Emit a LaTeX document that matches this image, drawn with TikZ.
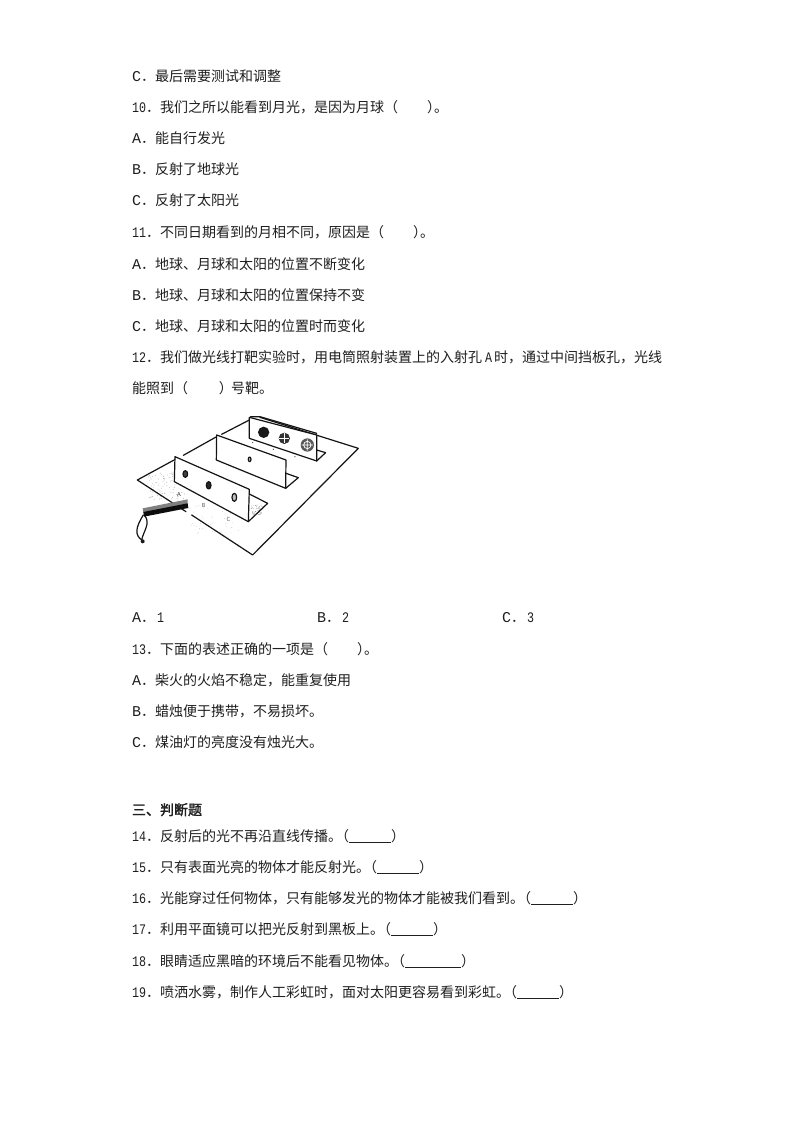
\documentclass[tikz,border=0pt]{standalone}
\usepackage{fontspec}
\setmainfont{Noto Sans CJK SC}
\newfontfamily\latinfont[FakeStretch=0.8]{Liberation Mono}
\newfontfamily\letterfont{Liberation Mono}
\newfontfamily\boldcjk[FakeBold=2]{Noto Sans CJK SC}
\newcommand{\mn}[1]{{\latinfont\fontsize{14.6pt}{14pt}\selectfont #1}}
\newcommand{\lt}[1]{{\letterfont\fontsize{15pt}{14pt}\selectfont #1}}
\newcommand{\blankline}[1]{\hspace{-7pt}（\rule[-2.2pt]{#1pt}{0.9pt}）}
\newcommand{\gapparen}{（\hspace{29pt}）\hspace{-7pt}}
\tikzset{
  ln/.style={anchor=base west,inner sep=0pt,outer sep=0pt,font=\fontsize{14pt}{16pt}\selectfont,text=black!88},
  art/.style={line width=1.2pt,draw=black!92,line join=round,line cap=round}
}
\begin{document}
\begin{tikzpicture}[x=1pt,y=-1pt]
\useasboundingbox (0,0) rectangle (794,1123);
\fill[white] (0,0) rectangle (794,1123);
\node[ln] (t1) at (132,82) {\lt{C}．最后需要测试和调整};
\node[ln] (t2) at (132,113) {\mn{10}．我们之所以能看到月光，是因为月球\gapparen 。};
\node[ln] (t3) at (132,144) {\lt{A}．能自行发光};
\node[ln] (t4) at (132,175) {\lt{B}．反射了地球光};
\node[ln] (t5) at (132,206) {\lt{C}．反射了太阳光};
\node[ln] (t6) at (132,237) {\mn{11}．不同日期看到的月相不同，原因是\gapparen 。};
\node[ln] (t7) at (132,269) {\lt{A}．地球、月球和太阳的位置不断变化};
\node[ln] (t8) at (132,300) {\lt{B}．地球、月球和太阳的位置保持不变};
\node[ln] (t9) at (132,331) {\lt{C}．地球、月球和太阳的位置时而变化};
\node[ln] (t10) at (132,362) {\mn{12}．我们做光线打靶实验时，用电筒照射装置上的入射孔\hspace{3pt}\mn{A}\hspace{2pt}时，通过中间挡板孔，光线};
\node[ln] (t11) at (132,393) {能照到（\hspace{31pt}）\hspace{-2pt}号靶。};
\node[ln] (o1) at (132,622) {\lt{A}．\hspace{2pt}\mn{1}};
\node[ln] (o2) at (317,622) {\lt{B}．\hspace{2pt}\mn{2}};
\node[ln] (o3) at (502,622) {\lt{C}．\hspace{2pt}\mn{3}};
\node[ln] (t12) at (132,654) {\mn{13}．下面的表述正确的一项是\gapparen 。};
\node[ln] (t13) at (132,685) {\lt{A}．柴火的火焰不稳定，能重复使用};
\node[ln] (t14) at (132,716) {\lt{B}．蜡烛便于携带，不易损坏。};
\node[ln] (t15) at (132,747) {\lt{C}．煤油灯的亮度没有烛光大。};
\node[ln,font=\boldcjk\fontsize{14pt}{16pt}\selectfont] (h) at (132,815) {三、判断题};
\node[ln] (q14) at (132,841) {\mn{14}．反射后的光不再沿直线传播。\blankline{42}};
\node[ln] (q15) at (132,872) {\mn{15}．只有表面光亮的物体才能反射光。\blankline{42}};
\node[ln] (q16) at (132,903) {\mn{16}．光能穿过任何物体，只有能够发光的物体才能被我们看到。\blankline{42}};
\node[ln] (q17) at (132,934) {\mn{17}．利用平面镜可以把光反射到黑板上。\blankline{42}};
\node[ln] (q18) at (132,966) {\mn{18}．眼睛适应黑暗的环境后不能看见物体。\blankline{56}};
\node[ln] (q19) at (132,997) {\mn{19}．喷洒水雾，制作人工彩虹时，面对太阳更容易看到彩虹。\blankline{42}};
\begin{scope}[shift={(120,400)},x=0.3333pt,y=-0.3333pt]
  % speckle
  \pgfmathsetseed{7}
  \foreach \i in {1,...,90}{
    \pgfmathsetmacro{\px}{85+rnd*110}
    \pgfmathsetmacro{\py}{215+rnd*85}
    \fill[black!40] (\px,\py) circle (1.2);
  }
  \foreach \i in {1,...,40}{
    \pgfmathsetmacro{\px}{210+rnd*150}
    \pgfmathsetmacro{\py}{315+rnd*85}
    \fill[black!30] (\px,\py) circle (1);
  }
  % board
  \draw[art] (166,178) -- (52,240) -- (198,335);
  \draw[art] (215,345) -- (398,465) -- (715,145) -- (420,52);
  \draw[art] (190,166) -- (290,110);
  \draw[art] (305,103) -- (388,60);
  % panel 3
  \draw[art,fill=white] (388,52) -- (590,105) -- (590,183) -- (388,115) -- cycle;
  \draw[art] (392,50) -- (420,50) -- (590,100);
  \draw[art] (590,150) -- (617,158) -- (590,183);
  \fill[black!90] (431,97) circle (17);
  \fill[black!80] (493,115) circle (17);
  \fill[black!65] (562,135) circle (20);
  \draw[white,line width=0.5pt] (493,100) -- (493,130) (478,115) -- (508,115);
  \draw[white,line width=0.7pt] (562,118) -- (562,152) (545,135) -- (579,135) (562,135) circle (11);
  \foreach \p/\q in {398/128,460/148,525/170} \fill[black!70] (\p,\q) circle (2);
  % panel 2
  \draw[art,fill=white] (290,105) -- (498,180) -- (497,265) -- (289,180) -- cycle;
  \draw[art] (498,220) -- (535,233) -- (497,265);
  \draw[art,fill=black!25] (389,178) ellipse (4 and 7);
  % panel 1
  \foreach \i in {1,...,50}{
    \pgfmathsetmacro{\px}{392+rnd*35}
    \pgfmathsetmacro{\py}{315+rnd*30}
    \fill[black!50] (\px,\py) circle (1.1);
  }
  \draw[art,fill=white] (165,170) -- (388,268) -- (385,365) -- (163,245) -- cycle;
  \draw[art] (388,282) -- (443,310) -- (385,365);
  \draw[art,fill=black!75] (196,222) ellipse (7 and 10);
  \draw[art,fill=black!85] (266,256) ellipse (7 and 11);
  \draw[art,fill=black!25] (343,292) ellipse (7 and 12);
  % flashlight
  \fill[black!50] (68,325) -- (203,298) -- (203,312) -- (70,338) -- cycle;
  \fill[black!95] (70,336) -- (203,310) -- (205,324) -- (72,350) -- cycle;
  \draw[art] (70,345) .. controls (45,385) and (45,405) .. (65,420);
  \draw[art] (75,348) .. controls (92,370) and (70,395) .. (65,420);
  \fill[black!90] (68,424) circle (6);
  \node[inner sep=0pt,font=\letterfont\fontsize{6pt}{6pt}\selectfont,text=black!80] (la) at (177,285) {A};
  \node[inner sep=0pt,font=\letterfont\fontsize{6pt}{6pt}\selectfont,text=black!60] (lb) at (251,318) {B};
  \node[inner sep=0pt,font=\letterfont\fontsize{6pt}{6pt}\selectfont,text=black!60] (lc) at (325,360) {C};
\end{scope}
\end{tikzpicture}
\end{document}
